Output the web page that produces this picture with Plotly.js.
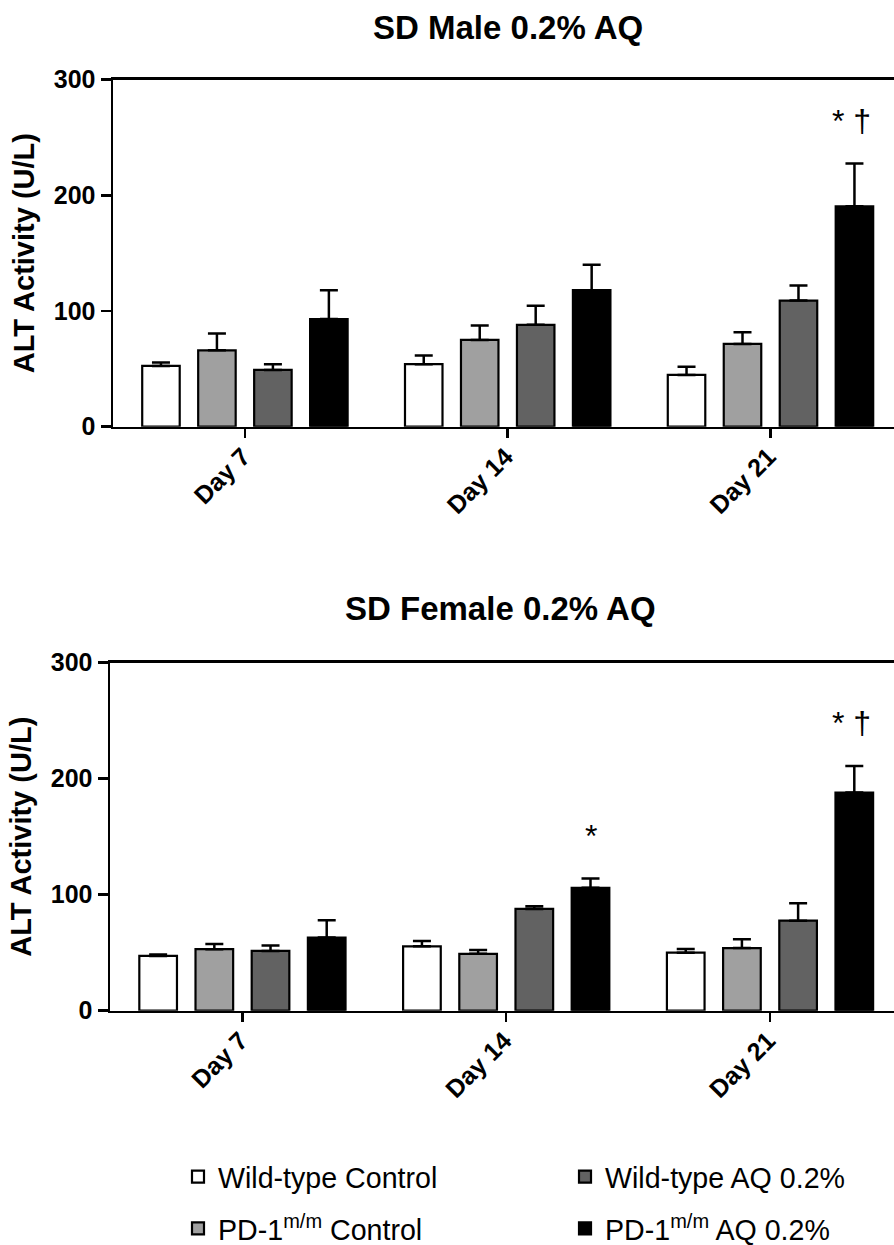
<!DOCTYPE html>
<html>
<head>
<meta charset="utf-8">
<script src="https://cdn.plot.ly/plotly-3.0.1.min.js"></script>
<style>html,body{margin:0;padding:0;background:#fff;overflow:hidden;}#chart{width:894px;height:1245px;}</style>
</head>
<body>
<div id="chart"></div>
<script>
// ---- Data ----
const categories = ['Day 7', 'Day 14', 'Day 21'];
const groupNames = ['Wild-type Control', 'PD-1<sup>m/m</sup> Control', 'Wild-type AQ 0.2%', 'PD-1<sup>m/m</sup> AQ 0.2%'];

// SD Male 0.2% AQ (mean, SEM)
const maleWTControl = [52.5, 54, 44.7];
const maleWTControlErr = [3, 7.5, 7];
const malePDControl = [66, 75, 71.5];
const malePDControlErr = [14.5, 12.5, 10];
const maleWTAQ = [49, 88, 109];
const maleWTAQErr = [5, 16.5, 13];
const malePDAQ = [93, 118, 190.5];
const malePDAQErr = [25, 22, 37];

// SD Female 0.2% AQ (mean, SEM)
const femaleWTControl = [47.2, 55.5, 50];
const femaleWTControlErr = [1.2, 4.5, 3.2];
const femalePDControl = [53, 49, 54];
const femalePDControlErr = [4.5, 3.3, 7.5];
const femaleWTAQ = [51.5, 87.7, 77.6];
const femaleWTAQErr = [4.8, 2.3, 15];
const femalePDAQ = [63, 106, 188];
const femalePDAQErr = [15, 8, 23];

// significance marks: panel, category index, group index, text
const sigPanel = ['male', 'female', 'female'];
const sigCategory = [2, 1, 2];
const sigGroup = [3, 3, 3];
const sigText = ['* †', '*', '* †'];

const yTicks = [0, 100, 200, 300];

// ---- Styles ----
const colors = ['#ffffff', '#a0a0a0', '#626262', '#000000'];
const legendId = ['legend', 'legend3', 'legend2', 'legend4'];
const BARGAP = 0.148, BARGROUPGAP = 0.33;
const FONT = 'Liberation Sans, Arial, sans-serif';

const maleVals = [maleWTControl, malePDControl, maleWTAQ, malePDAQ];
const maleErrs = [maleWTControlErr, malePDControlErr, maleWTAQErr, malePDAQErr];
const femaleVals = [femaleWTControl, femalePDControl, femaleWTAQ, femalePDAQ];
const femaleErrs = [femaleWTControlErr, femalePDControlErr, femaleWTAQErr, femalePDAQErr];

const traces = [];
function addPanel(vals, errs, xa, ya, showLegend) {
  for (let g = 0; g < 4; g++) {
    traces.push({
      type: 'bar',
      x: categories,
      y: vals[g],
      name: groupNames[g],
      xaxis: xa, yaxis: ya,
      legend: legendId[g],
      showlegend: showLegend,
      marker: { color: colors[g], line: { color: '#000', width: 2.2 } },
      error_y: { type: 'data', symmetric: false, array: errs[g], arrayminus: errs[g].map(() => 0),
                 color: '#000', thickness: 2.5, width: 9 },
      hoverinfo: 'y'
    });
  }
}
addPanel(maleVals, maleErrs, 'x', 'y', true);
addPanel(femaleVals, femaleErrs, 'x2', 'y2', false);

const slot = (1 - BARGAP) / 4;
const annotations = [];
for (let i = 0; i < sigText.length; i++) {
  const vals = sigPanel[i] === 'male' ? maleVals : femaleVals;
  const errs = sigPanel[i] === 'male' ? maleErrs : femaleErrs;
  const c = sigCategory[i], g = sigGroup[i];
  annotations.push({
    xref: sigPanel[i] === 'male' ? 'x' : 'x2',
    yref: sigPanel[i] === 'male' ? 'y' : 'y2',
    x: c + (g - 1.5) * slot,
    y: vals[g][c] + errs[g][c] + 37,
    text: sigText[i], showarrow: false,
    xshift: sigText[i] === '*' ? 0 : -3,
    font: { family: FONT, size: 32, color: '#000' }
  });
}
annotations.push({ xref: 'paper', yref: 'paper', x: 0.5682, y: 0.9783, xanchor: 'center', yanchor: 'middle',
  text: 'SD Male 0.2% AQ', showarrow: false, font: { family: FONT, size: 33, color: '#000', weight: 'bold' } });
annotations.push({ xref: 'paper', yref: 'paper', x: 0.5593, y: 0.511, xanchor: 'center', yanchor: 'middle',
  text: 'SD Female 0.2% AQ', showarrow: false, font: { family: FONT, size: 33, color: '#000', weight: 'bold' } });

function xAxis(domain) {
  return {
    domain: domain, type: 'category', range: [-0.502, 2.47],
    showline: true, linecolor: '#000', linewidth: 2.5, mirror: true,
    ticks: 'outside', ticklen: 9, tickwidth: 2.5, tickcolor: '#000',
    tickangle: -45, ticklabelshift: -2, ticklabelstandoff: -6,
    tickfont: { family: FONT, size: 25, color: '#000', weight: 'bold' },
    showgrid: false, zeroline: false, automargin: false, fixedrange: true
  };
}
function yAxis(domain, anchor) {
  return {
    domain: domain, anchor: anchor, range: [0, 300], tickvals: yTicks, ticktext: yTicks.map(String),
    showline: true, linecolor: '#000', linewidth: 2.5, mirror: false,
    ticks: 'outside', ticklen: 10, tickwidth: 2.5, tickcolor: '#000',
    tickfont: { family: FONT, size: 25, color: '#000', weight: 'bold' },
    title: { text: 'ALT Activity (U/L)', standoff: 11, font: { family: FONT, size: 29, color: '#000', weight: 'bold' } },
    showgrid: false, zeroline: false, automargin: false, fixedrange: true
  };
}

function legendAt(x, y, yanchor) {
  return {
    orientation: 'h', xanchor: 'left', yanchor: yanchor, x: x, y: y,
    font: { family: FONT, size: 28.6, color: '#000' },
    bgcolor: 'rgba(0,0,0,0)', borderwidth: 0
  };
}

const layout = {
  width: 894, height: 1245,
  margin: { l: 0, r: 0, t: 0, b: 0, autoexpand: false },
  paper_bgcolor: '#fff', plot_bgcolor: '#fff',
  barmode: 'group', bargap: BARGAP, bargroupgap: BARGROUPGAP,
  xaxis: Object.assign(xAxis([113 / 894, 1]), { anchor: 'y' }),
  yaxis: yAxis([0.6573, 0.9361], 'x'),
  xaxis2: Object.assign(xAxis([110 / 894, 1]), { anchor: 'y2' }),
  yaxis2: yAxis([0.1882, 0.4677], 'x2'),
  legend: legendAt(0.1991, 0.0546, 'middle'),
  legend2: legendAt(0.632, 0.0546, 'middle'),
  legend3: legendAt(0.1991, 0.0130, 'middle'),
  legend4: legendAt(0.632, 0.0130, 'middle'),
  annotations: annotations,
  showlegend: true
};

Plotly.newPlot('chart', traces, layout, { staticPlot: true, displayModeBar: false });
</script>
</body>
</html>
